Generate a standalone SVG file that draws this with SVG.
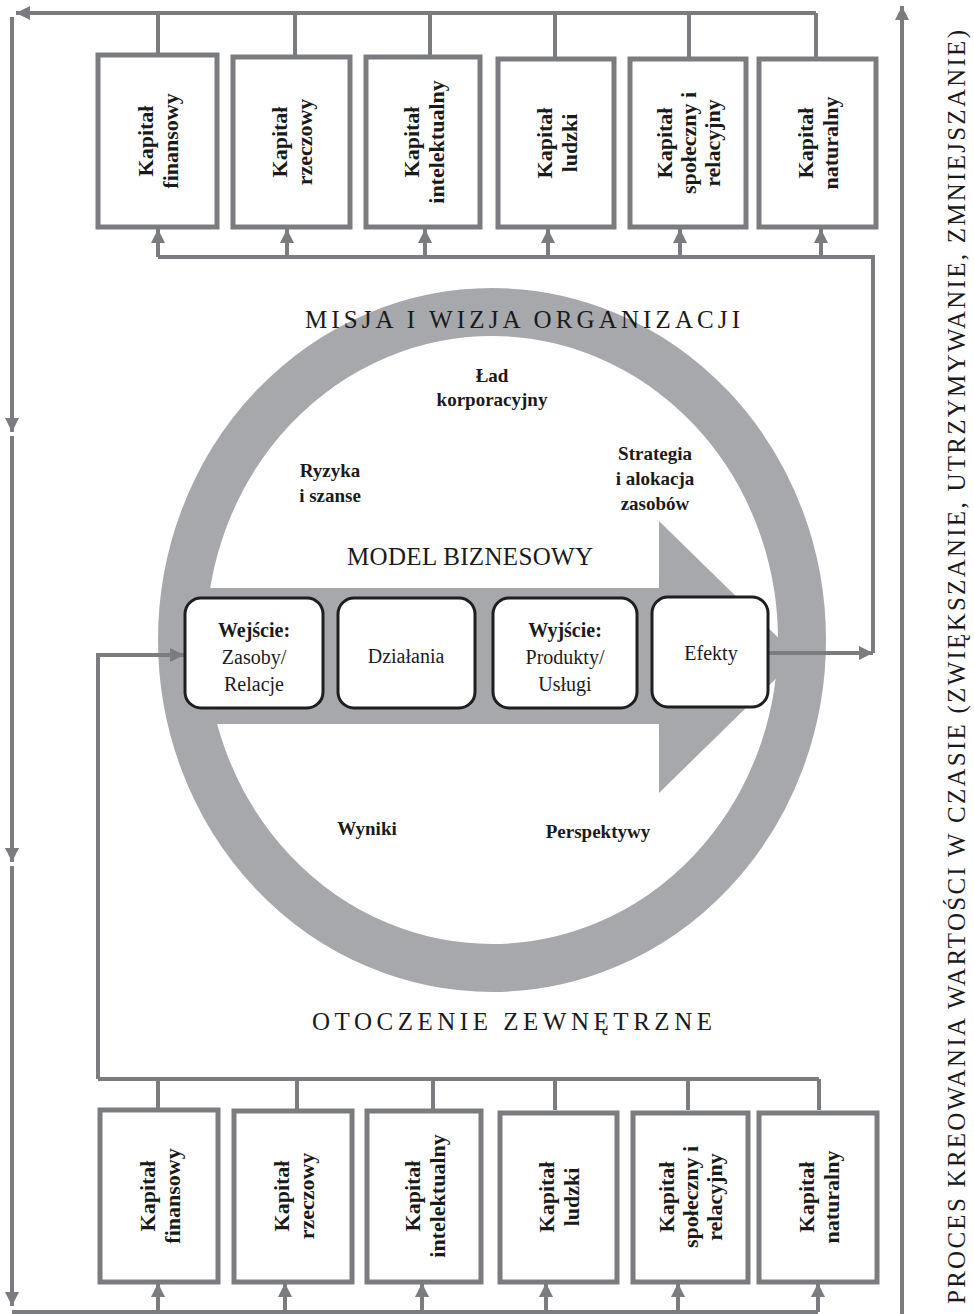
<svg xmlns="http://www.w3.org/2000/svg" width="974" height="1314" viewBox="0 0 974 1314">
<defs>
<marker id="ah" viewBox="0 0 10 10" refX="10" refY="5" markerWidth="14" markerHeight="14" markerUnits="userSpaceOnUse" orient="auto">
<path d="M0,0 L10,5 L0,10 z" fill="#7b7c80"/>
</marker>
<style>
.ln{fill:none;stroke:#7b7c80;stroke-width:4}
.cap{fill:#fff;stroke:#7b7c80;stroke-width:5}
.rb{fill:#fff;stroke:#1e1e1e;stroke-width:3}
text{font-family:"Liberation Serif","DejaVu Serif",serif;fill:#1a1a1a}
.vt{font-weight:bold;font-size:22px;text-anchor:middle}
.bx{font-size:20px;text-anchor:middle}
.bb{font-weight:bold}
.lb{font-weight:bold;font-size:19px;text-anchor:middle}
.big{font-size:25px}
</style>
</defs>
<rect width="974" height="1314" fill="#fff"/>

<g id="ring">
<polygon points="200,588 659,588 659,521 798,657 659,793 659,724 200,724" fill="#a7a8ac"/>
<ellipse cx="492" cy="640" rx="310" ry="328" fill="none" stroke="#a7a8ac" stroke-width="48"/>
</g>

<g id="connectors">
<path class="ln" d="M816,13 H16" marker-end="url(#ah)"/>
<path class="ln" d="M158,13 V55 M295,13 V57 M430,13 V57 M555,13 V57 M689,13 V57 M816,13 V57"/>
<path class="ln" d="M158,257 H873 V653"/>
<path class="ln" d="M158,257 V229" marker-end="url(#ah)"/>
<path class="ln" d="M287,257 V229" marker-end="url(#ah)"/>
<path class="ln" d="M425,257 V229" marker-end="url(#ah)"/>
<path class="ln" d="M548,257 V229" marker-end="url(#ah)"/>
<path class="ln" d="M680,257 V229" marker-end="url(#ah)"/>
<path class="ln" d="M821,257 V229" marker-end="url(#ah)"/>
<path class="ln" d="M12,17 V432" marker-end="url(#ah)"/>
<path class="ln" d="M12,436 V862" marker-end="url(#ah)"/>
<path class="ln" d="M12,866 V1306" marker-end="url(#ah)"/>
<path class="ln" d="M12,1312 H818"/>
<path class="ln" d="M158,1312 V1283" marker-end="url(#ah)"/>
<path class="ln" d="M285,1312 V1283" marker-end="url(#ah)"/>
<path class="ln" d="M422,1312 V1283" marker-end="url(#ah)"/>
<path class="ln" d="M546,1312 V1283" marker-end="url(#ah)"/>
<path class="ln" d="M678,1312 V1283" marker-end="url(#ah)"/>
<path class="ln" d="M818,1312 V1283" marker-end="url(#ah)"/>
<path class="ln" d="M98,1079 H819 M158,1079 V1110 M297,1079 V1110 M433,1079 V1110 M555,1079 V1110 M688,1079 V1110 M819,1079 V1110"/>
<path class="ln" d="M98,1079 V655 H184" marker-end="url(#ah)"/>
<path class="ln" d="M768,653 H873" marker-end="url(#ah)"/>
<path class="ln" d="M902,1314 V6" marker-end="url(#ah)"/>
</g>

<g id="t1"><rect class="cap" x="98" y="55" width="119" height="172"/>
<text class="vt" transform="translate(157,141) rotate(-90)"><tspan x="0" y="-4">Kapitał</tspan><tspan x="0" y="21">finansowy</tspan></text></g>
<g id="t2"><rect class="cap" x="233" y="57" width="117" height="170"/>
<text class="vt" transform="translate(291,142) rotate(-90)"><tspan x="0" y="-4">Kapitał</tspan><tspan x="0" y="21">rzeczowy</tspan></text></g>
<g id="t3"><rect class="cap" x="366" y="57" width="114" height="170"/>
<text class="vt" transform="translate(423,142) rotate(-90)"><tspan x="0" y="-4">Kapitał</tspan><tspan x="0" y="21">intelektualny</tspan></text></g>
<g id="t4"><rect class="cap" x="498" y="59" width="116" height="168"/>
<text class="vt" transform="translate(556,143) rotate(-90)"><tspan x="0" y="-4">Kapitał</tspan><tspan x="0" y="21">ludzki</tspan></text></g>
<g id="t5"><rect class="cap" x="630" y="59" width="116" height="168"/>
<text class="vt" transform="translate(688,143) rotate(-90)"><tspan x="0" y="-16">Kapitał</tspan><tspan x="0" y="8">społeczny i</tspan><tspan x="0" y="32">relacyjny</tspan></text></g>
<g id="t6"><rect class="cap" x="759" y="59" width="117" height="168"/>
<text class="vt" transform="translate(817,143) rotate(-90)"><tspan x="0" y="-4">Kapitał</tspan><tspan x="0" y="21">naturalny</tspan></text></g>

<g id="b1"><rect class="cap" x="100" y="1110" width="118" height="172"/>
<text class="vt" transform="translate(159,1196) rotate(-90)"><tspan x="0" y="-4">Kapitał</tspan><tspan x="0" y="21">finansowy</tspan></text></g>
<g id="b2"><rect class="cap" x="234" y="1111" width="118" height="171"/>
<text class="vt" transform="translate(293,1196) rotate(-90)"><tspan x="0" y="-4">Kapitał</tspan><tspan x="0" y="21">rzeczowy</tspan></text></g>
<g id="b3"><rect class="cap" x="367" y="1111" width="114" height="171"/>
<text class="vt" transform="translate(424,1196) rotate(-90)"><tspan x="0" y="-4">Kapitał</tspan><tspan x="0" y="21">intelektualny</tspan></text></g>
<g id="b4"><rect class="cap" x="500" y="1113" width="117" height="169"/>
<text class="vt" transform="translate(558,1197) rotate(-90)"><tspan x="0" y="-4">Kapitał</tspan><tspan x="0" y="21">ludzki</tspan></text></g>
<g id="b5"><rect class="cap" x="633" y="1113" width="115" height="169"/>
<text class="vt" transform="translate(690,1197) rotate(-90)"><tspan x="0" y="-16">Kapitał</tspan><tspan x="0" y="8">społeczny i</tspan><tspan x="0" y="32">relacyjny</tspan></text></g>
<g id="b6"><rect class="cap" x="759" y="1113" width="118" height="169"/>
<text class="vt" transform="translate(818,1197) rotate(-90)"><tspan x="0" y="-4">Kapitał</tspan><tspan x="0" y="21">naturalny</tspan></text></g>

<g id="wejscie"><rect class="rb" x="185" y="598" width="138" height="110" rx="16"/>
<text class="bx"><tspan class="bb" x="254" y="637">Wejście:</tspan><tspan x="254" y="664">Zasoby/</tspan><tspan x="254" y="691">Relacje</tspan></text></g>
<g id="dzialania"><rect class="rb" x="338" y="598" width="137" height="110" rx="16"/>
<text class="bx" x="406" y="663">Działania</text></g>
<g id="wyjscie"><rect class="rb" x="493" y="598" width="144" height="110" rx="16"/>
<text class="bx"><tspan class="bb" x="565" y="637">Wyjście:</tspan><tspan x="565" y="664">Produkty/</tspan><tspan x="565" y="691">Usługi</tspan></text></g>
<g id="efekty"><rect class="rb" x="652" y="597" width="116" height="110" rx="16"/>
<text class="bx" x="711" y="660">Efekty</text></g>

<g id="labels">
<text class="big" x="305" y="328" textLength="435" lengthAdjust="spacing">MISJA I WIZJA ORGANIZACJI</text>
<text class="lb" x="492" y="382">Ład</text>
<text class="lb" x="492" y="406">korporacyjny</text>
<text class="lb" x="330" y="477">Ryzyka</text>
<text class="lb" x="330" y="502">i szanse</text>
<text class="lb" x="655" y="460">Strategia</text>
<text class="lb" x="655" y="485">i alokacja</text>
<text class="lb" x="655" y="510">zasobów</text>
<text class="big" x="347" y="565" font-size="21" textLength="246" lengthAdjust="spacing">MODEL BIZNESOWY</text>
<text class="lb" x="367" y="835">Wyniki</text>
<text class="lb" x="598" y="838">Perspektywy</text>
<text class="big" x="312" y="1030" textLength="400" lengthAdjust="spacing">OTOCZENIE ZEWNĘTRZNE</text>
<text class="big" font-size="21" transform="translate(965,667) rotate(-90)" x="-637" y="0" textLength="1274" lengthAdjust="spacing">PROCES KREOWANIA WARTOŚCI W CZASIE (ZWIĘKSZANIE, UTRZYMYWANIE, ZMNIEJSZANIE)</text>
</g>
</svg>
